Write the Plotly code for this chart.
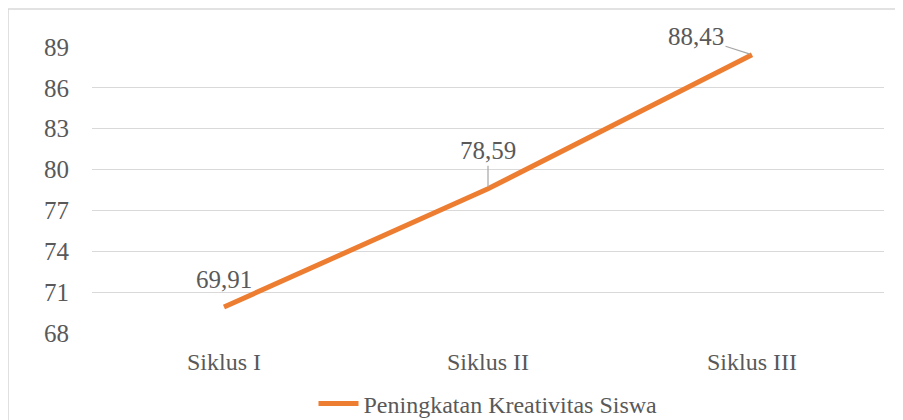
import plotly.graph_objects as go

categories = ["Siklus I", "Siklus II", "Siklus III"]
values = [69.91, 78.59, 88.43]
value_labels = ["69,91", "78,59", "88,43"]
y_ticks = [68, 71, 74, 77, 80, 83, 86, 89]
series_name = "Peningkatan Kreativitas Siswa"

FONT = "Liberation Serif"
TXT = "#595959"
GRID = "#d9d9d9"

fig = go.Figure()
fig.add_trace(go.Scatter(
    x=categories, y=values, mode="lines", name=series_name,
    line=dict(color="#ED7D31", width=5),
    showlegend=True,
))

# data labels (offsets in pixels)
offsets = [(0, -27, False), (0, -38, True), (-56, -18, True)]
for cat, v, lab, (dx, dy, arrow) in zip(categories, values, value_labels, offsets):
    if arrow:
        fig.add_annotation(x=cat, y=v, text=lab, showarrow=True, ax=dx, ay=dy,
                           arrowhead=0, arrowwidth=1.2, arrowcolor="#a6a6a6",
                           standoff=2, startstandoff=0,
                           font=dict(family=FONT, size=25, color=TXT))
    else:
        fig.add_annotation(x=cat, y=v, text=lab, showarrow=False,
                           xshift=dx, yshift=-dy,
                           font=dict(family=FONT, size=25, color=TXT))

# chart border
fig.add_shape(type="rect", xref="paper", yref="paper",
              x0=-0.106, x1=1.2, y0=-0.6, y1=1.133,
              line=dict(color=GRID, width=1.5), layer="below")

fig.update_layout(
    width=895, height=412,
    margin=dict(l=84, r=19, t=39, b=87, autoexpand=False),
    paper_bgcolor="white", plot_bgcolor="white",
    font=dict(family=FONT, size=24, color=TXT),
    showlegend=True,
    legend=dict(orientation="h", x=0.5, xanchor="center", y=-0.248, yanchor="middle",
                font=dict(family=FONT, size=24, color=TXT),
                bgcolor="rgba(0,0,0,0)", itemwidth=40),
    xaxis=dict(type="category", showgrid=False, showline=False, zeroline=False,
               ticks="", tickfont=dict(family=FONT, size=24, color=TXT),
               range=[-0.5, 2.5], ticklabelstandoff=12),
    yaxis=dict(range=[68, 89], tickvals=y_ticks, ticks="", showline=False,
               zeroline=False, gridcolor=GRID, gridwidth=1.3,
               tickfont=dict(family=FONT, size=25, color=TXT), ticklabelstandoff=22),
)

fig.write_html("out.html")
